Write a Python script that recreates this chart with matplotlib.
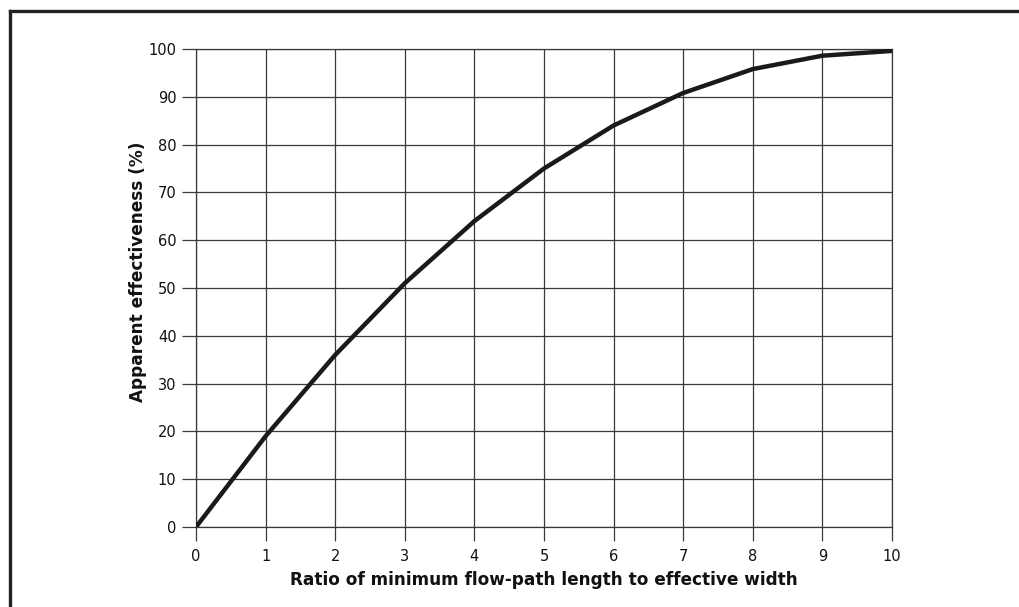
import matplotlib
matplotlib.use("Agg")
import matplotlib.pyplot as plt
from matplotlib.lines import Line2D

# 读图数据
ratio = [0, 1, 2, 3, 4, 5, 6, 7, 8, 9, 10]
effectiveness = [0, 19, 36, 51, 64, 75, 84, 90.8, 95.8, 98.6, 99.6]
xticks = list(range(0, 11))
yticks = list(range(0, 101, 10))

plt.rcParams['font.family'] = ['DejaVu Sans']

fig = plt.figure(figsize=(10.2, 6.07), dpi=100)
ax = fig.add_axes([196 / 1020, 1 - 527 / 607, (892 - 196) / 1020, (527 - 49) / 607])

ax.plot(ratio, effectiveness, color='#1a1a1a', linewidth=3.2, solid_capstyle='butt', zorder=3)

ax.set_xlim(0, 10)
ax.set_ylim(0, 100)
ax.set_xticks(xticks)
ax.set_yticks(yticks)
ax.grid(True, color='#3a3a3a', linewidth=0.9)
for s in ax.spines.values():
    s.set_color('#3a3a3a')
    s.set_linewidth(0.9)

ax.tick_params(axis='both', direction='out', length=10, width=0.9, color='#3a3a3a',
               labelsize=10.5, labelcolor='#111111')
ax.tick_params(axis='y', pad=4)
ax.tick_params(axis='x', pad=6)
ax.set_xlabel('Ratio of minimum flow-path length to effective width',
              fontsize=12.2, fontweight='bold', labelpad=5, color='#111111')
ax.set_ylabel('Apparent effectiveness (%)', fontsize=12.2, fontweight='bold', labelpad=1,
              color='#111111')
ax.yaxis.label.set_y(0.535)

# 外框：左边和上边
fig.add_artist(Line2D([10.5 / 1020, 10.5 / 1020], [0, 1 - 10.5 / 607], color='#1e2328', linewidth=2.4))
fig.add_artist(Line2D([10.5 / 1020, 1], [1 - 10.5 / 607, 1 - 10.5 / 607], color='#1e2328', linewidth=2.4))

fig.savefig('out.png', dpi=100)
